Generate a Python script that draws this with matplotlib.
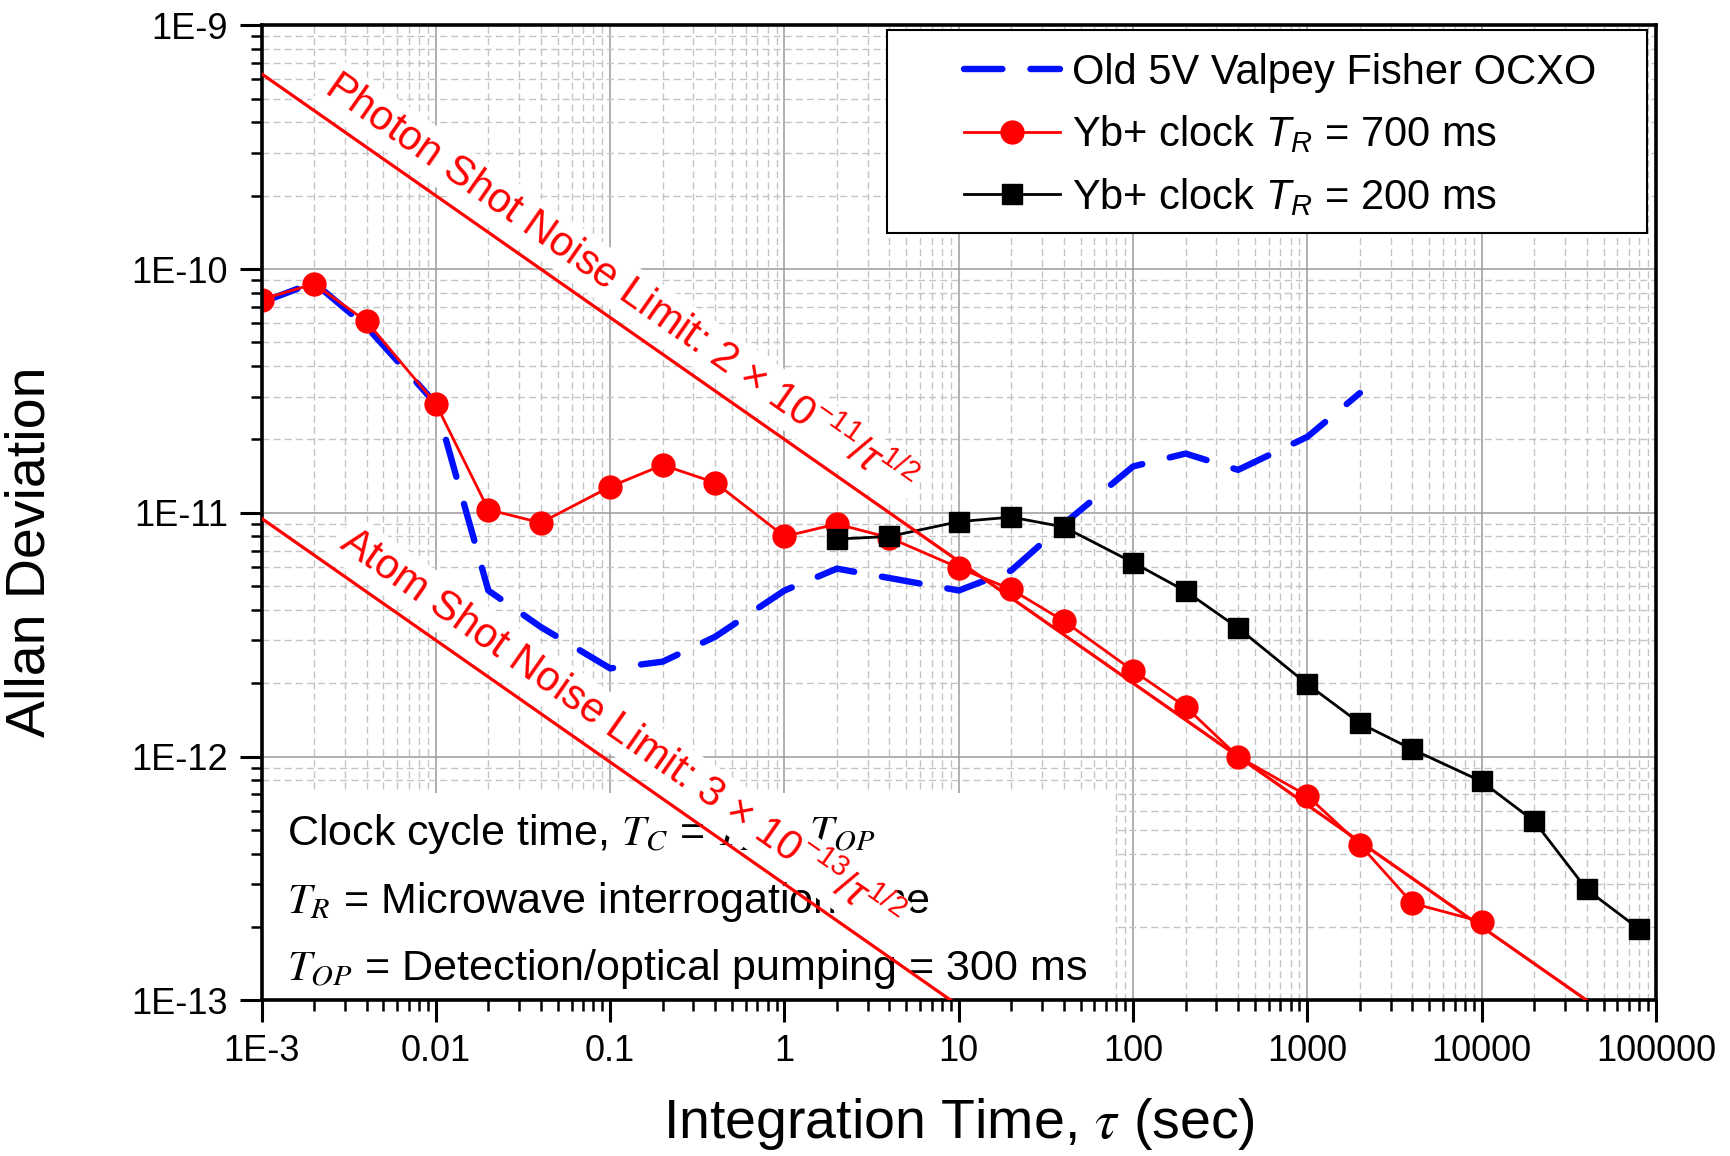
import numpy as np
import matplotlib
matplotlib.use("Agg")
import matplotlib.pyplot as plt
from matplotlib.patches import Rectangle
from matplotlib.ticker import LogLocator, NullFormatter

plt.rcParams['font.family'] = ['Liberation Sans', 'DejaVu Sans']
plt.rcParams['mathtext.fontset'] = 'custom'
plt.rcParams['mathtext.rm'] = 'Liberation Sans'
plt.rcParams['mathtext.it'] = 'Liberation Sans:italic'
plt.rcParams['mathtext.sf'] = 'Liberation Sans'

# data
tau_ocxo = [1e-3, 2e-3, 4e-3, 0.01, 0.02, 0.04, 0.1, 0.2, 0.4, 1, 2, 4, 10, 20, 40,
            100, 200, 400, 1000, 2000]
adev_ocxo = [7.3e-11, 8.8e-11, 5.8e-11, 2.8e-11, 4.8e-12, 3.4e-12, 2.3e-12, 2.45e-12,
             3.1e-12, 4.8e-12, 5.9e-12, 5.4e-12, 4.8e-12, 5.8e-12, 9.0e-12,
             1.55e-11, 1.75e-11, 1.5e-11, 2.05e-11, 3.1e-11]

tau_700 = [1e-3, 2e-3, 4e-3, 0.01, 0.02, 0.04, 0.1, 0.2, 0.4, 1, 2, 4, 10, 20, 40,
           100, 200, 400, 1000, 2000, 4000, 10000]
adev_700 = [7.5e-11, 8.7e-11, 6.1e-11, 2.8e-11, 1.03e-11, 9.1e-12, 1.28e-11, 1.57e-11,
            1.33e-11, 8.0e-12, 9.0e-12, 7.9e-12, 5.95e-12, 4.85e-12, 3.6e-12,
            2.25e-12, 1.6e-12, 1.0e-12, 6.9e-13, 4.35e-13, 2.5e-13, 2.1e-13]

tau_200 = [2, 4, 10, 20, 40, 100, 200, 400, 1000, 2000, 4000, 10000, 20000, 40000, 80000]
adev_200 = [7.8e-12, 8.0e-12, 9.2e-12, 9.6e-12, 8.75e-12, 6.25e-12, 4.77e-12, 3.37e-12,
            1.98e-12, 1.37e-12, 1.07e-12, 7.9e-13, 5.43e-13, 2.85e-13, 1.96e-13]

# shot noise limits  sigma = coef / sqrt(tau)
photon_coef = 2e-11
photon_tau = [1e-3, 4e4]
atom_coef = 3e-13
atom_tau = [1e-3, 10]

xticks = [1e-3, 1e-2, 1e-1, 1, 10, 100, 1000, 1e4, 1e5]
xticklabels = ['1E-3', '0.01', '0.1', '1', '10', '100', '1000', '10000', '100000']
yticks = [1e-13, 1e-12, 1e-11, 1e-10, 1e-9]
yticklabels = ['1E-13', '1E-12', '1E-11', '1E-10', '1E-9']

fig = plt.figure(figsize=(17.31, 11.56), dpi=100)
ax = fig.add_axes([0.1511, 0.1347, 0.8056, 0.8434])
ax.set_xscale('log')
ax.set_yscale('log')
ax.set_xlim(1e-3, 1e5)
ax.set_ylim(1e-13, 1e-9)

ax.set_xticks(xticks, xticklabels)
ax.set_yticks(yticks, yticklabels)
ax.xaxis.set_minor_locator(LogLocator(base=10, subs=np.arange(2, 10), numticks=20))
ax.yaxis.set_minor_locator(LogLocator(base=10, subs=np.arange(2, 10), numticks=20))
ax.xaxis.set_minor_formatter(NullFormatter())
ax.yaxis.set_minor_formatter(NullFormatter())
ax.tick_params(which='major', direction='out', length=16, width=2.2, labelsize=26, pad=8)
ax.tick_params(which='minor', direction='out', length=8, width=1.8)
for s in ax.spines.values():
    s.set_linewidth(2.6)

ax.grid(True, which='major', color='#9a9a9a', lw=1.1, ls='-')
ax.grid(True, which='minor', color='#c4c4c4', lw=1.0, ls=(0, (5, 3)))

# white box behind the notes
ax.add_patch(Rectangle((0, 0), 0.611, 0.2126, transform=ax.transAxes,
                       facecolor='white', edgecolor='none', zorder=1.6))

# shot noise lines
pt = np.array(photon_tau)
ax.plot(pt, photon_coef / np.sqrt(pt), color='red', lw=2.3, zorder=3.5)
at = np.array(atom_tau)
ax.plot(at, atom_coef / np.sqrt(at), color='red', lw=2.3, zorder=3.5)

ax.plot(tau_ocxo, adev_ocxo, color='#0010ff', lw=4.6, dashes=(6.0, 4.4),
        dash_capstyle='round', zorder=2.1, label='Old 5V Valpey Fisher OCXO')
ax.plot(tau_700, adev_700, color='red', lw=2.0, marker='o', ms=16.5,
        zorder=2.3, label='Yb+ clock $T_R$ = 700 ms')
ax.plot(tau_200, adev_200, color='black', lw=2.0, marker='s', ms=14.5,
        zorder=2.4, label='Yb+ clock $T_R$ = 200 ms')

# rotated labels along the limit lines
p1 = ax.transData.transform((1e-3, photon_coef / np.sqrt(1e-3)))
p2 = ax.transData.transform((1e4, photon_coef / np.sqrt(1e4)))
ang = np.degrees(np.arctan2(p2[1] - p1[1], p2[0] - p1[0]))
perp = np.array([-np.sin(np.radians(ang)), np.cos(np.radians(ang))])
off = 20 * perp

x0 = 0.00192
ax.annotate('Photon Shot Noise Limit: 2 \u00d7 10$^{-11}$/$\\tau^{1/2}$',
            xy=(x0, photon_coef / np.sqrt(x0)), xytext=tuple(off),
            textcoords='offset pixels', rotation=ang, rotation_mode='anchor',
            ha='left', va='baseline', fontsize=30, color='red', zorder=5,
            bbox=dict(facecolor='white', edgecolor='none', pad=3))
x1 = 0.00234
ax.annotate('Atom Shot Noise Limit: 3 \u00d7 10$^{-13}$/$\\tau^{1/2}$',
            xy=(x1, atom_coef / np.sqrt(x1)), xytext=tuple(off),
            textcoords='offset pixels', rotation=ang, rotation_mode='anchor',
            ha='left', va='baseline', fontsize=30, color='red', zorder=5,
            bbox=dict(facecolor='white', edgecolor='none', pad=3))

notes = ['Clock cycle time, $T_C$ = $T_R$ + $T_{OP}$',
         '$T_R$ = Microwave interrogation time',
         '$T_{OP}$ = Detection/optical pumping = 300 ms']
for txt, yy in zip(notes, [0.159, 0.0895, 0.0208]):
    ax.text(0.018, yy, txt, transform=ax.transAxes, fontsize=31, va='baseline',
            ha='left', zorder=3, math_fontfamily='stix')

# legend frame drawn separately (wide left margin as in the original)
ax.add_patch(Rectangle((0.4485, 0.787), 0.545, 0.208, transform=ax.transAxes,
                       facecolor='white', edgecolor='black', lw=1.5, zorder=5.5))
leg = ax.legend(loc='upper left', bbox_to_anchor=(0.5035, 0.972), borderaxespad=0,
                fontsize=30, frameon=False, handlelength=2.3, handletextpad=0.3,
                labelspacing=0.5, borderpad=0)
leg.set_zorder(6)

ax.set_xlabel('Integration Time, $\\tau$ (sec)', fontsize=40, labelpad=20,
              math_fontfamily='stix')
ax.set_ylabel('Allan Deviation', fontsize=40)
ax.yaxis.set_label_coords(-0.147, 0.46)

fig.savefig('out.png', dpi=100)
